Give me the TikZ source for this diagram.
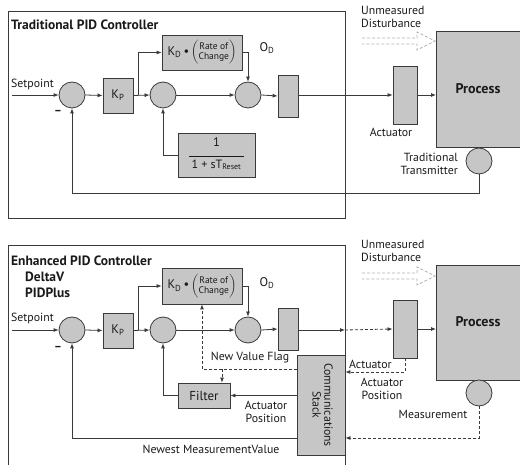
\documentclass[tikz,border=0pt]{standalone}
\usepackage{fontspec}
\setmainfont{PT Sans}
\usetikzlibrary{arrows.meta,calc}
\definecolor{lc}{HTML}{3A3A3A}
\definecolor{bf}{HTML}{C6C6C6}
\definecolor{tc}{HTML}{1A1A1A}
\definecolor{dc}{HTML}{B0B0B0}
\begin{document}
\begin{tikzpicture}[x=1pt,y=-1pt,
  every node/.style={text=tc,font=\fontsize{11.8}{12.6}\selectfont,inner sep=0pt},
  blk/.style={draw=lc,fill=bf,line width=0.8pt,rectangle},
  sumc/.style={draw=lc,fill=bf,line width=0.8pt,circle,minimum size=26pt},
  conn/.style={draw=lc,line width=0.8pt,-{Latex[length=5pt,width=4pt]}},
  dconn/.style={draw=lc,line width=0.8pt,dash pattern=on 3pt off 2pt,-{Latex[length=5pt,width=4pt]}},
  frame/.style={draw=lc,line width=1pt},
  ttl/.style={font=\fontsize{13.5}{14.5}\selectfont\bfseries,anchor=west},
  lbl/.style={align=center}]
\clip (0,0) rectangle (520,465);
\fill[white] (0,0) rectangle (520,465);

% ---------- TOP ----------
\draw[frame] (8,12) rectangle (345,219);
\node[ttl] (t1) at (11,25) {Traditional PID Controller};
\node[anchor=west] (sp1l) at (11,84) {Setpoint};
\coordinate (sp1) at (12,95);
\node[sumc] (s1a) at (72,95) {};
\node[blk,minimum width=30pt,minimum height=35pt,font=\fontsize{12.5}{13}\selectfont] (kp1) at (118,95.5) {K\textsubscript{P}};
\node[sumc] (s2a) at (163,95) {};
\node[blk,minimum width=80pt,minimum height=35pt,font=\fontsize{12.5}{13}\selectfont] (kd1) at (202,52.5)
  {K\textsubscript{D}\,•\,$\left(\vcenter{\hbox{\fontsize{9.5}{11}\selectfont\begin{tabular}{@{}c@{}}Rate of\\[-1pt]Change\end{tabular}}}\right)$};
\node[sumc] (s3a) at (248,95) {};
\node[font=\fontsize{12.5}{13}\selectfont] (od1) at (267,48) {O\textsubscript{D}};
\node[blk,minimum width=20pt,minimum height=42pt] (ob1) at (288,96) {};
\node[blk,minimum width=24pt,minimum height=58pt] (act1) at (405,95) {};
\node[blk,minimum width=94pt,minimum height=116pt,anchor=north west] (proc1) at (436,31) {};
\node[font=\fontsize{14}{15}\selectfont\bfseries] (pt1) at (478,89) {Process};
\node[sumc] (tt1) at (479,161) {};
\node[blk,minimum width=77pt,minimum height=44pt] (rst1) at (216.5,155)
  {\begin{tabular}{@{}c@{}}\fontsize{12.5}{13}\selectfont 1\\[-3pt]\rule{55pt}{0.7pt}\\[-1pt]\fontsize{12}{13}\selectfont 1 + sT\textsubscript{\fontsize{8}{9}\selectfont Reset}\end{tabular}};
\node (m1) at (58,112) {\textbf{–}};
\node (al1) at (391,132) {Actuator};
\node[align=right,anchor=east] (ttl1) at (458,164) {Traditional\\Transmitter};
\node[anchor=west,align=left] (ud1) at (361,17) {Unmeasured\\Disturbance};
\draw[dc,line width=0.8pt,dash pattern=on 3pt off 2pt]
  (362,38) -- (417,38) -- (417,32) -- (435,41) -- (417,50) -- (417,44) -- (362,44);

\draw[conn] (sp1) -- (s1a.west);
\draw[conn] (s1a.east) -- (kp1.west);
\draw[conn] (kp1.east) -- (s2a.west);
\coordinate (br1) at (138,95);
\draw[conn] (br1) |- (kd1.west);
\draw[conn] (kd1.east) -| (s3a.north);
\draw[conn] (s2a.east) -- (s3a.west);
\draw[conn] (s3a.east) -- (ob1.west);
\draw[conn] (ob1.east |- s3a.east) -- (act1.west);
\draw[conn] (act1.east) -- (act1.east -| proc1.west);
\draw[conn] (rst1.west) -| (s2a.south);
\coordinate (fb1) at (479,193);
\draw[conn] (tt1.south) -- (fb1) -| (s1a.south);

% ---------- BOTTOM ----------
\draw[frame] (8,475) -- (8,246) -- (345,246) -- (345,475);
\node[ttl] (t2) at (11,261) {Enhanced PID Controller};
\node[ttl] (t2b) at (25,277) {DeltaV};
\node[ttl] (t2c) at (25,293) {PIDPlus};
\node[anchor=west] (sp2l) at (11,318) {Setpoint};
\coordinate (sp2) at (12,330);
\node[sumc] (s1b) at (72,330) {};
\node[blk,minimum width=30pt,minimum height=35pt,font=\fontsize{12.5}{13}\selectfont] (kp2) at (118,330.5) {K\textsubscript{P}};
\node[sumc] (s2b) at (163,330) {};
\node[blk,minimum width=80pt,minimum height=36pt,font=\fontsize{12.5}{13}\selectfont] (kd2) at (202,286)
  {K\textsubscript{D}\,•\,$\left(\vcenter{\hbox{\fontsize{9.5}{11}\selectfont\begin{tabular}{@{}c@{}}Rate of\\[-1pt]Change\end{tabular}}}\right)$};
\node[sumc] (s3b) at (248,330) {};
\node[font=\fontsize{12.5}{13}\selectfont] (od2) at (267,283) {O\textsubscript{D}};
\node[blk,minimum width=20pt,minimum height=42pt] (ob2) at (288,329) {};
\node[blk,minimum width=24pt,minimum height=58pt] (act2) at (405,329) {};
\node[blk,minimum width=94pt,minimum height=115pt,anchor=north west] (proc2) at (436,265) {};
\node[font=\fontsize{14}{15}\selectfont\bfseries] (pt2) at (478,322) {Process};
\node[sumc] (meas) at (479,393) {};
\node[blk,minimum width=48pt,minimum height=100pt] (cs) at (321,405)
  {\rotatebox{-90}{\begin{tabular}{@{}c@{}}Communications\\[-1pt]Stack\end{tabular}}};
\node[blk,minimum width=52pt,minimum height=25pt,font=\fontsize{13}{14}\selectfont] (filt) at (204,395.5) {Filter};
\node (m2) at (58,348) {\textbf{–}};
\node[anchor=west,align=left] (ud2) at (361,251) {Unmeasured\\Disturbance};
\draw[dc,line width=0.8pt,dash pattern=on 3pt off 2pt]
  (362,273) -- (417,273) -- (417,267) -- (435,276) -- (417,285) -- (417,279) -- (362,279);
\node (nvl) at (250,358) {New Value Flag};
\node[lbl] (apl1) at (266,412) {Actuator\\Position};
\node[lbl] (nml) at (211,449) {Newest MeasurementValue};
\node[anchor=west] (al2) at (349,364) {Actuator};
\node[lbl] (apl2) at (382,389) {Actuator\\Position};
\node (msl) at (433,414) {Measurement};

\draw[conn] (sp2) -- (s1b.west);
\draw[conn] (s1b.east) -- (kp2.west);
\draw[conn] (kp2.east) -- (s2b.west);
\coordinate (br2) at (138,330);
\draw[conn] (br2) |- (kd2.west);
\draw[conn] (kd2.east) -| (s3b.north);
\draw[conn] (s2b.east) -- (s3b.west);
\draw[conn] (s3b.east) -- (ob2.west);
\coordinate (edge2) at (345,330);
\draw[conn] (ob2.east |- s3b.east) -- (edge2);
\draw[dconn] (edge2) -- (act2.west);
\draw[conn] (act2.east) -- (act2.east -| proc2.west);
\coordinate (nv) at (202,369);
\draw[dconn] (cs.west |- nv) -| (kd2.south);
\coordinate (nvb) at (222,369);
\draw[dconn] (nvb) -- (nvb |- filt.north);
\draw[conn] (cs.west |- filt.east) -- (filt.east);
\draw[conn] (filt.west) -| (s2b.south);
\coordinate (nm) at (297,438);
\draw[conn] (cs.west |- nm) -| (s1b.south);
\coordinate (ap) at (405,372);
\draw[dconn] (act2.south) |- (cs.east |- ap);
\coordinate (mm) at (479,438);
\draw[dconn] (meas.south) |- (cs.east |- mm);
\end{tikzpicture}
\end{document}
